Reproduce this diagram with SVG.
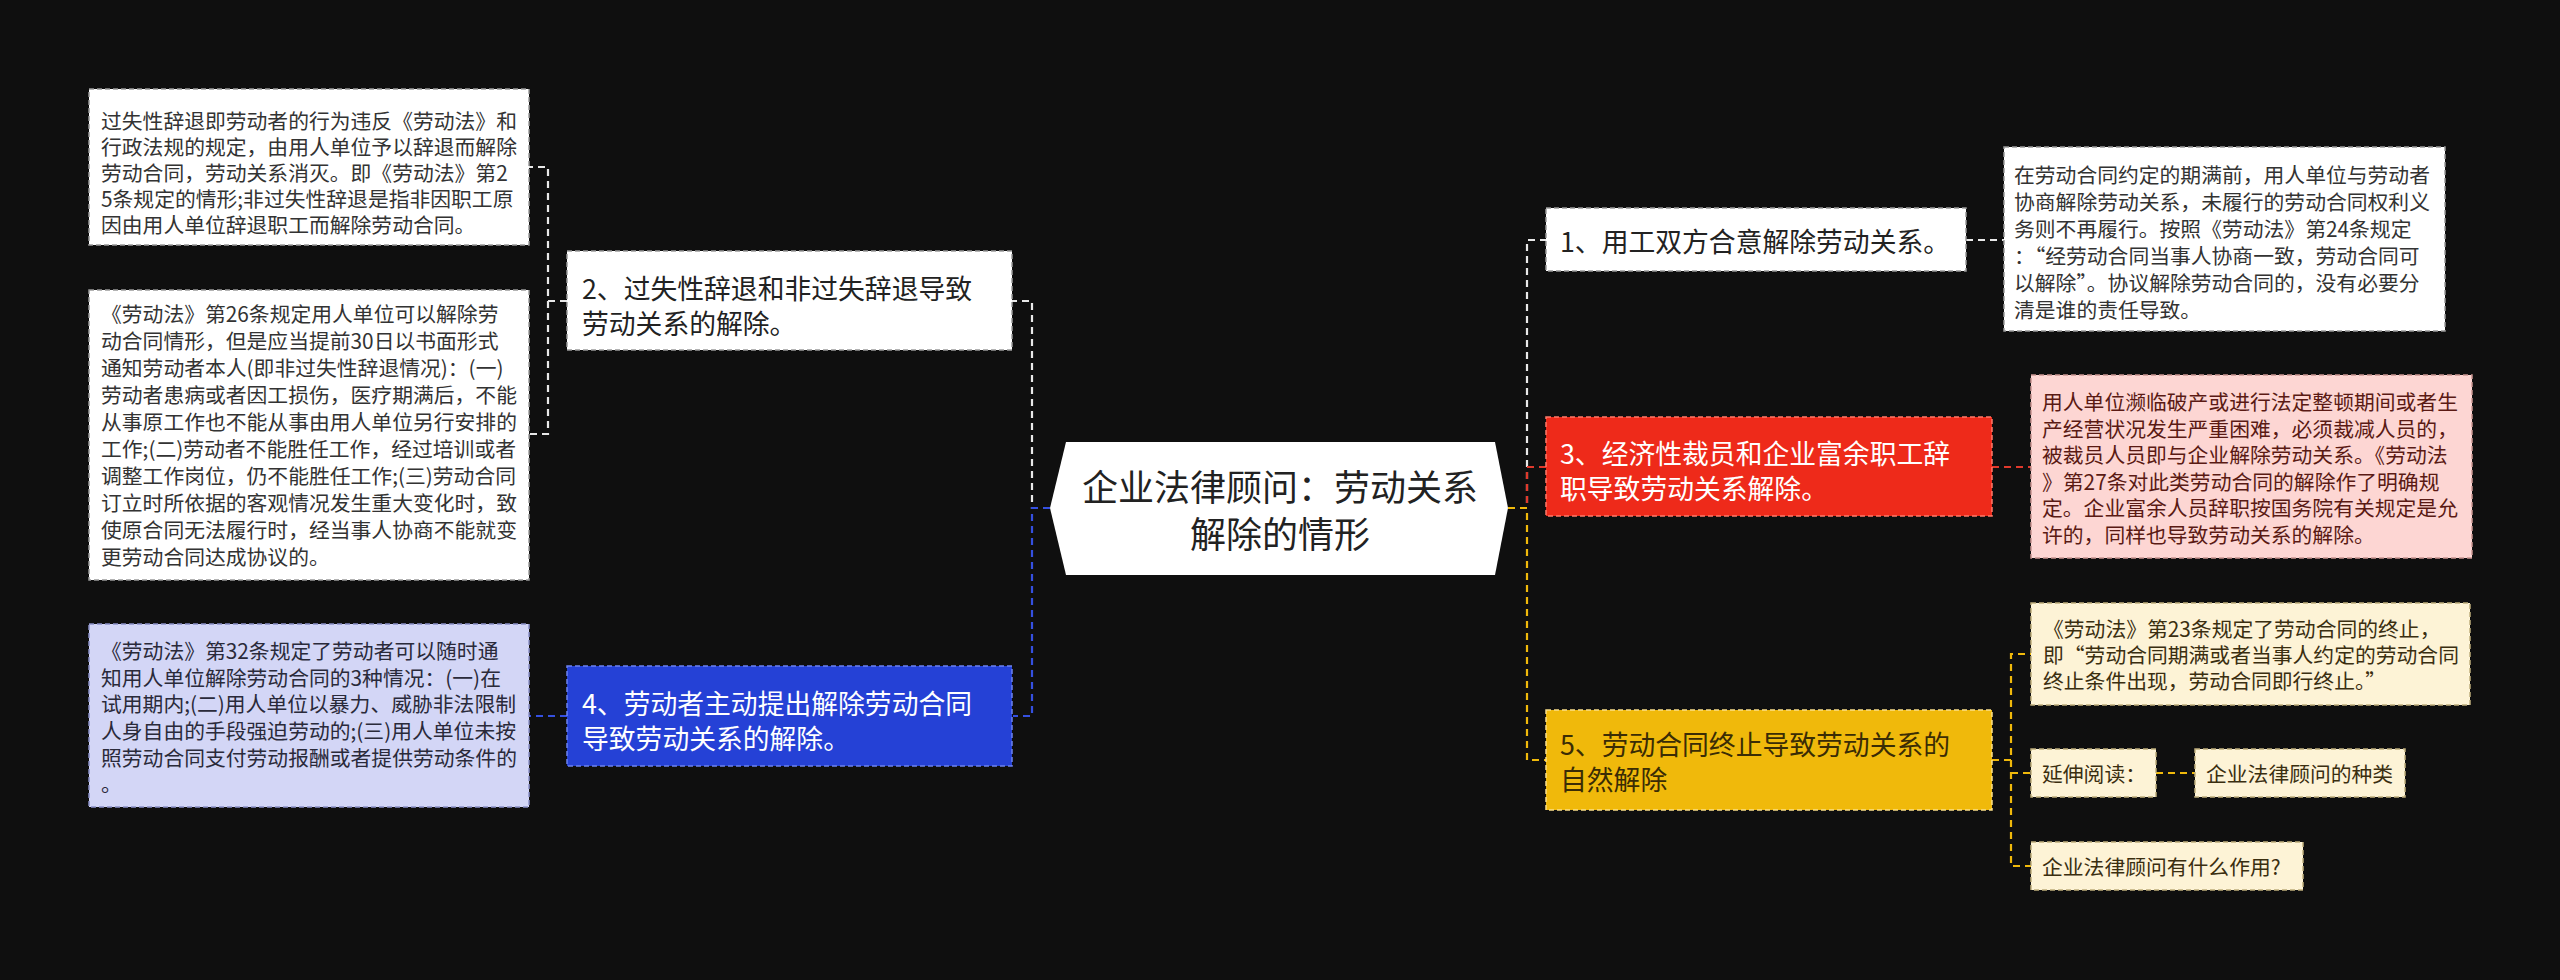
<svg xmlns="http://www.w3.org/2000/svg" width="2560" height="980" viewBox="0 0 2560 980">
<style>
text{font-family:"Noto Sans CJK SC","Noto Sans",sans-serif;dominant-baseline:central}
.s{font-size:20.8px}
.n{font-size:26.8px}
.c{font-size:36px}
.con{fill:none;stroke-width:2.2;stroke-dasharray:7 5}
.w{stroke:#e8e8e8}
.b{stroke:#3550e0}
.r{stroke:#e0392c}
.y{stroke:#f0b90b}
.bx{stroke-width:1.5;stroke-dasharray:5 3}
</style>
<rect width="2560" height="980" fill="#0f0f0f"/>
<g id="connectors">
<path class="con w" d="M1050 508H1032V301H1012"/>
<path class="con b" d="M1050 508H1032V716H1013"/>
<path class="con w" d="M567 301H548V167H529M548 301V434H529"/>
<path class="con b" d="M567 716H529"/>
<path class="con w" d="M1508 508H1527V240H1546"/>
<path class="con r" d="M1508 508H1527V467H1546"/>
<path class="con y" d="M1508 508H1527V760H1546"/>
<path class="con w" d="M1966 240H2004"/>
<path class="con r" d="M1992 467H2031"/>
<path class="con y" d="M1992 760H2011V654H2031M2011 760V866H2031M2011 773H2031"/>
<path class="con y" d="M2156 773H2195"/>
</g>
<g id="center">
<polygon points="1066,442 1495,442 1508,508 1495,575 1066,575 1050,508" fill="#ffffff"/>
<text class="c" x="1280" y="485" text-anchor="middle" fill="#222">企业法律顾问：劳动关系</text>
<text class="c" x="1280" y="532" text-anchor="middle" fill="#222">解除的情形</text>
</g>
<g id="node2">
<rect class="bx" x="567" y="251" width="445" height="99" fill="#ffffff" stroke="#9a9a9a"/>
<text class="n" fill="#222"><tspan x="582" y="287">2、过失性辞退和非过失辞退导致</tspan><tspan x="582" y="322">劳动关系的解除。</tspan></text>
</g>
<g id="node4">
<rect class="bx" x="567" y="666" width="445" height="100" fill="#2541d6" stroke="#6c82f0"/>
<text class="n" fill="#ffffff"><tspan x="582" y="702">4、劳动者主动提出解除劳动合同</tspan><tspan x="582" y="737">导致劳动关系的解除。</tspan></text>
</g>
<g id="leaf2a">
<rect class="bx" x="89" y="89" width="440" height="156" fill="#ffffff" stroke="#9a9a9a"/>
<text class="s" fill="#333"><tspan x="101" y="120">过失性辞退即劳动者的行为违反《劳动法》和</tspan><tspan x="101" y="146">行政法规的规定，由用人单位予以辞退而解除</tspan><tspan x="101" y="172">劳动合同，劳动关系消灭。即《劳动法》第2</tspan><tspan x="101" y="198">5条规定的情形;非过失性辞退是指非因职工原</tspan><tspan x="101" y="224">因由用人单位辞退职工而解除劳动合同。</tspan></text>
</g>
<g id="leaf2b">
<rect class="bx" x="89" y="290" width="440" height="290" fill="#ffffff" stroke="#9a9a9a"/>
<text class="s" fill="#333"><tspan x="101" y="313">《劳动法》第26条规定用人单位可以解除劳</tspan><tspan x="101" y="340">动合同情形，但是应当提前30日以书面形式</tspan><tspan x="101" y="367">通知劳动者本人(即非过失性辞退情况)：(一)</tspan><tspan x="101" y="394">劳动者患病或者因工损伤，医疗期满后，不能</tspan><tspan x="101" y="421">从事原工作也不能从事由用人单位另行安排的</tspan><tspan x="101" y="448">工作;(二)劳动者不能胜任工作，经过培训或者</tspan><tspan x="101" y="475">调整工作岗位，仍不能胜任工作;(三)劳动合同</tspan><tspan x="101" y="502">订立时所依据的客观情况发生重大变化时，致</tspan><tspan x="101" y="529">使原合同无法履行时，经当事人协商不能就变</tspan><tspan x="101" y="556">更劳动合同达成协议的。</tspan></text>
</g>
<g id="leaf4">
<rect class="bx" x="89" y="624" width="440" height="183" fill="#d3d6f6" stroke="#8a90c8"/>
<text class="s" fill="#2a2a3a"><tspan x="101" y="650">《劳动法》第32条规定了劳动者可以随时通</tspan><tspan x="101" y="677">知用人单位解除劳动合同的3种情况：(一)在</tspan><tspan x="101" y="703">试用期内;(二)用人单位以暴力、威胁非法限制</tspan><tspan x="101" y="730">人身自由的手段强迫劳动的;(三)用人单位未按</tspan><tspan x="101" y="757">照劳动合同支付劳动报酬或者提供劳动条件的</tspan><tspan x="101" y="783">。</tspan></text>
</g>
<g id="node1">
<rect class="bx" x="1546" y="208" width="420" height="63" fill="#ffffff" stroke="#9a9a9a"/>
<text class="n" x="1560" y="240" fill="#222">1、用工双方合意解除劳动关系。</text>
</g>
<g id="node3">
<rect class="bx" x="1546" y="417" width="446" height="99" fill="#ee2a1a" stroke="#ff7a6a"/>
<text class="n" fill="#ffffff"><tspan x="1560" y="452">3、经济性裁员和企业富余职工辞</tspan><tspan x="1560" y="487">职导致劳动关系解除。</tspan></text>
</g>
<g id="node5">
<rect class="bx" x="1546" y="710" width="446" height="100" fill="#f0b90b" stroke="#fbe08a"/>
<text class="n" fill="#3a2c05"><tspan x="1560" y="743">5、劳动合同终止导致劳动关系的</tspan><tspan x="1560" y="778">自然解除</tspan></text>
</g>
<g id="leaf1">
<rect class="bx" x="2004" y="147" width="441" height="184" fill="#ffffff" stroke="#9a9a9a"/>
<text class="s" fill="#333"><tspan x="2014" y="174">在劳动合同约定的期满前，用人单位与劳动者</tspan><tspan x="2014" y="201">协商解除劳动关系，未履行的劳动合同权利义</tspan><tspan x="2014" y="228">务则不再履行。按照《劳动法》第24条规定</tspan><tspan x="2014" y="255">：“经劳动合同当事人协商一致，劳动合同可</tspan><tspan x="2014" y="282">以解除”。协议解除劳动合同的，没有必要分</tspan><tspan x="2014" y="309">清是谁的责任导致。</tspan></text>
</g>
<g id="leaf3">
<rect class="bx" x="2031" y="375" width="441" height="183" fill="#fdd6d3" stroke="#c89490"/>
<text class="s" fill="#5a1a14"><tspan x="2042" y="401">用人单位濒临破产或进行法定整顿期间或者生</tspan><tspan x="2042" y="427.5">产经营状况发生严重困难，必须裁减人员的，</tspan><tspan x="2042" y="454">被裁员人员即与企业解除劳动关系。《劳动法</tspan><tspan x="2042" y="480.5">》第27条对此类劳动合同的解除作了明确规</tspan><tspan x="2042" y="507">定。企业富余人员辞职按国务院有关规定是允</tspan><tspan x="2042" y="533.5">许的，同样也导致劳动关系的解除。</tspan></text>
</g>
<g id="leaf5a">
<rect class="bx" x="2031" y="603" width="439" height="102" fill="#fdf3d6" stroke="#bfae7c"/>
<text class="s" fill="#3a2e10"><tspan x="2043" y="628">《劳动法》第23条规定了劳动合同的终止，</tspan><tspan x="2043" y="654">即“劳动合同期满或者当事人约定的劳动合同</tspan><tspan x="2043" y="680">终止条件出现，劳动合同即行终止。”</tspan></text>
</g>
<g id="leaf5b">
<rect class="bx" x="2031" y="749" width="125" height="48" fill="#fdf3d6" stroke="#bfae7c"/>
<text class="s" x="2042" y="773" fill="#3a2e10">延伸阅读：</text>
</g>
<g id="leaf5c">
<rect class="bx" x="2195" y="749" width="210" height="48" fill="#fdf3d6" stroke="#bfae7c"/>
<text class="s" x="2206" y="773" fill="#3a2e10">企业法律顾问的种类</text>
</g>
<g id="leaf5d">
<rect class="bx" x="2031" y="842" width="272" height="48" fill="#fdf3d6" stroke="#bfae7c"/>
<text class="s" x="2042" y="866" fill="#3a2e10">企业法律顾问有什么作用?</text>
</g>
</svg>
